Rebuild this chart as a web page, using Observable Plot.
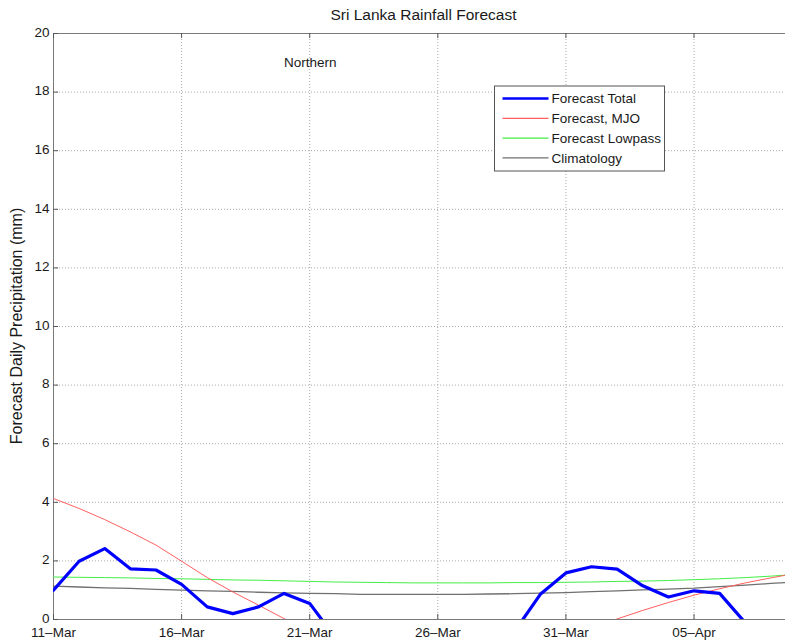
<!DOCTYPE html>
<html>
<head>
<meta charset="utf-8">
<script src="https://cdn.jsdelivr.net/npm/d3@7"></script>
<script src="https://cdn.jsdelivr.net/npm/@observablehq/plot@0.6"></script>
<style>
  body { margin: 0; background: #fff; overflow: hidden; }
  #chart { position: relative; width: 785px; height: 644px; overflow: hidden;
           font-family: "Liberation Sans", Arial, Helvetica, sans-serif; color: #1a1a1a; }
  #title { position: absolute; left: 423.5px; top: 6px; transform: translateX(-50%);
           font-size: 15.5px; white-space: nowrap; }
  #ylabel { position: absolute; left: 17px; top: 326px; font-size: 16px; white-space: nowrap;
            transform: translate(-50%, -50%) rotate(-90deg); }
  #chart svg { overflow: hidden; }
</style>
</head>
<body>
<div id="chart">
  <div id="title">Sri Lanka Rainfall Forecast</div>
  <div id="ylabel">Forecast Daily Precipitation (mm)</div>
</div>
<script>
// Forecast period: daily values starting 11 March
const startDate = Date.UTC(2014, 2, 11);
const day = (i) => new Date(startDate + i * 864e5);

// Forecast total (mm/day); null marks days with no drawn segment
const forecastTotal = [1.0, 1.99, 2.42, 1.73, 1.69, 1.2, 0.43, 0.2, 0.43, 0.89, 0.55, -0.62,
  null, null, null, null, null, null,
  -0.4, 0.86, 1.59, 1.8, 1.72, 1.15, 0.77, 0.98, 0.89, -0.11];

// MJO component of the forecast
const forecastMJO = [4.13, 3.79, 3.41, 2.99, 2.54, 1.99, 1.43, 0.94, 0.49, 0.03, -0.4,
  null, null, null, null, null, null, null, null, null,
  -0.55, -0.28, 0.02, 0.31, 0.58, 0.83, 1.05, 1.25, 1.42, 1.58];

// Low-pass component of the forecast
const forecastLowpass = [1.45, 1.44, 1.43, 1.42, 1.4, 1.39, 1.37, 1.35, 1.34, 1.32,
  1.3, 1.28, 1.27, 1.26, 1.25, 1.25, 1.25, 1.25, 1.26, 1.26,
  1.27, 1.28, 1.3, 1.31, 1.33, 1.36, 1.39, 1.43, 1.48, 1.54];

// Daily climatology
const climatology = [1.14, 1.11, 1.08, 1.06, 1.03, 1.0, 0.98, 0.96, 0.93, 0.91,
  0.89, 0.88, 0.86, 0.86, 0.86, 0.86, 0.86, 0.87, 0.88, 0.9,
  0.92, 0.95, 0.98, 1.01, 1.04, 1.07, 1.12, 1.17, 1.23, 1.28];

// Axis ticks
const xTickDays = [0, 5, 10, 15, 20, 25];
const xTickLabels = ["11–Mar", "16–Mar", "21–Mar", "26–Mar", "31–Mar", "05–Apr"];
const yTicks = [0, 2, 4, 6, 8, 10, 12, 14, 16, 18, 20];

const seriesNames = ["Forecast Total", "Forecast, MJO", "Forecast Lowpass", "Climatology"];
const seriesColors = ["#0000ff", "#ff6060", "#44ee44", "#707070"];
const seriesWidths = [3.2, 1, 1, 1.3];

const toRows = (values) => values.map((v, i) => ({date: day(i), value: v}));
const xTickDates = xTickDays.map(day);

const W = 785, H = 644;
const mL = 53, mT = 33, mB = 25, mR = -11;
const frameW = W - mL - mR, frameH = H - mT - mB;
const tickLen = 5;
const textColor = "#1a1a1a";

const lineMark = (values, k) => Plot.line(toRows(values), {
  x: "date", y: "value",
  stroke: seriesColors[k], strokeWidth: seriesWidths[k],
  strokeLinejoin: "round", clip: true
});

const chart = Plot.plot({
  width: W, height: H,
  marginLeft: mL, marginTop: mT, marginBottom: mB, marginRight: mR,
  style: {fontFamily: '"Liberation Sans", Arial, Helvetica, sans-serif', fontSize: "13.5px",
          color: textColor, background: "#fff", overflow: "hidden"},
  x: {type: "utc", domain: [day(0), day(29)]},
  y: {domain: [0, 20]},
  marks: [
    Plot.gridX(xTickDates, {stroke: "#a8a8a8", strokeOpacity: 1, strokeDasharray: "1,2"}),
    Plot.gridY(yTicks, {stroke: "#a8a8a8", strokeOpacity: 1, strokeDasharray: "1,2"}),
    Plot.frame({stroke: "#7a7a7a"}),
    // inward tick marks on the bottom, top and left edges
    Plot.tickX(xTickDates, {x: d => d, stroke: "#555", insetTop: frameH - tickLen}),
    Plot.tickX(xTickDates, {x: d => d, stroke: "#555", insetBottom: frameH - tickLen}),
    Plot.tickY(yTicks, {y: d => d, stroke: "#555", insetRight: frameW - tickLen}),
    lineMark(climatology, 3),
    lineMark(forecastLowpass, 2),
    lineMark(forecastMJO, 1),
    lineMark(forecastTotal, 0),
    Plot.text(["Northern"], {x: day(9), y: 19, text: d => d, textAnchor: "start",
      fontSize: 13.5, fill: textColor}),
    Plot.axisX({ticks: xTickDates, tickSize: 0, tickPadding: 8, label: null, fontSize: 13.5,
      tickFormat: d => xTickLabels[xTickDates.findIndex(t => +t === +d)]}),
    Plot.axisY({ticks: yTicks, tickSize: 0, tickPadding: 4, label: null, fontSize: 13.5,
      dy: -1})
  ]
});

// Legend box in the upper right of the plot area
const svg = d3.select(chart);
const lg = svg.append("g").attr("transform", "translate(494.5,86)")
  .attr("text-anchor", "start");
lg.append("rect").attr("width", 170).attr("height", 85)
  .attr("fill", "#fff").attr("stroke", "#555").attr("stroke-width", 1);
seriesNames.forEach((name, i) => {
  const y = 12.5 + i * 19.8;
  lg.append("line").attr("x1", 8).attr("x2", 54).attr("y1", y).attr("y2", y)
    .attr("stroke", seriesColors[i]).attr("stroke-width", i === 0 ? 2.6 : 1.2);
  lg.append("text").attr("x", 57).attr("y", y).attr("dy", "0.35em")
    .attr("text-anchor", "start")
    .attr("font-size", 13.5).attr("fill", textColor).text(name);
});

document.getElementById("chart").appendChild(chart);
</script>
</body>
</html>
